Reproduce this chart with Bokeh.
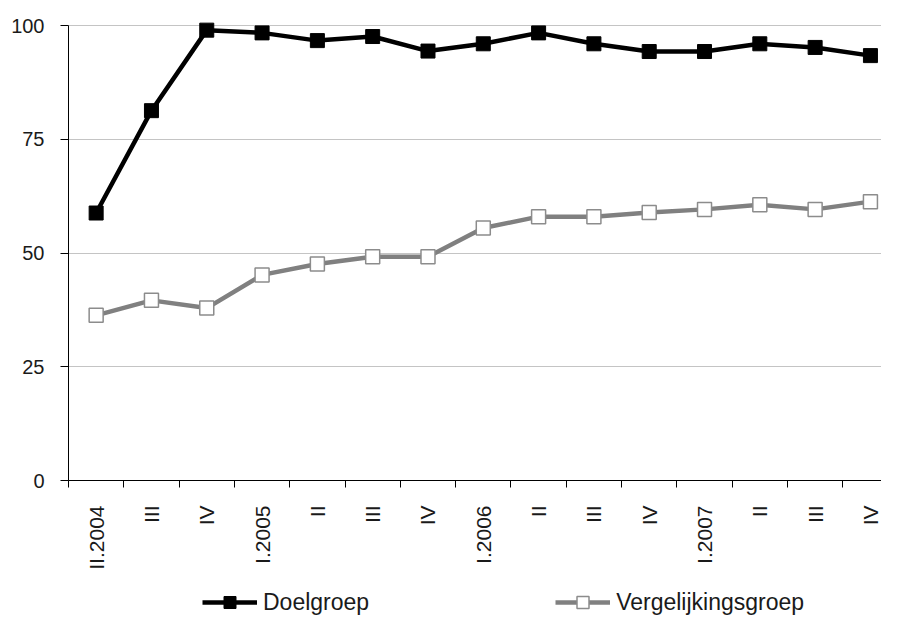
import math
from bokeh.plotting import figure
from bokeh.layouts import column
from bokeh.models import Range1d, FixedTicker, Legend, LegendItem
from bokeh.embed import file_html
from bokeh.resources import INLINE

categories = ["II.2004", "III", "IV", "I.2005", "II", "III", "IV", "I.2006",
              "II", "III", "IV", "I.2007", "II", "III", "IV"]
doelgroep = [58.8, 81.3, 99.0, 98.4, 96.7, 97.6, 94.4, 96.0, 98.4, 96.0, 94.3, 94.3, 96.0, 95.2, 93.4]
vergelijkingsgroep = [36.3, 39.6, 37.9, 45.2, 47.6, 49.2, 49.2, 55.5, 58.0, 58.0, 58.9, 59.6, 60.6, 59.6, 61.3]
y_ticks = [0, 25, 50, 75, 100]
series_names = ["Doelgroep", "Vergelijkingsgroep"]

xs = list(range(len(categories)))

BLACK_LINE = dict(line_color="black", line_width=4.5)
BLACK_MARK = dict(marker="square", size=14, fill_color="black", line_color="black")
GREY_LINE = dict(line_color="#808080", line_width=4.5)
GREY_MARK = dict(marker="square", size=14, fill_color="white", line_color="#8c8c8c", line_width=1.5)

p = figure(width=881, height=585,
           x_range=Range1d(-0.5, 14.2), y_range=Range1d(0, 102),
           output_backend="svg", toolbar_location=None,
           min_border_left=68, min_border_right=0, min_border_top=16, min_border_bottom=105)
p.outline_line_color = None
p.background_fill_color = "white"

p.xgrid.grid_line_color = None
p.ygrid.grid_line_color = "#c4c4c4"
p.ygrid.grid_line_width = 1

p.yaxis.ticker = FixedTicker(ticks=y_ticks)
p.yaxis.bounds = (0, 100)
p.yaxis.axis_line_color = "black"
p.yaxis.major_tick_line_color = "black"
p.yaxis.major_tick_out = 8
p.yaxis.major_tick_in = 0
p.yaxis.minor_tick_line_color = None
p.yaxis.major_label_standoff = 16
p.yaxis.major_label_text_font = "Liberation Sans"
p.yaxis.major_label_text_font_size = "20px"
p.yaxis.major_label_text_color = "#1a1a1a"

p.xaxis.ticker = FixedTicker(ticks=xs, minor_ticks=[i - 0.5 for i in xs])
p.xaxis.major_label_overrides = {i: c for i, c in zip(xs, categories)}
p.xaxis.major_label_orientation = math.pi / 2
p.xaxis.major_tick_out = 0
p.xaxis.major_tick_in = 0
p.xaxis.minor_tick_out = 7
p.xaxis.minor_tick_in = 0
p.xaxis.minor_tick_line_color = "black"
p.xaxis.axis_line_color = "black"
p.xaxis.major_label_standoff = 18
p.xaxis.major_label_text_font = "Liberation Sans"
p.xaxis.major_label_text_font_size = "21px"
p.xaxis.major_label_text_color = "#1a1a1a"

p.line(xs, vergelijkingsgroep, **GREY_LINE)
p.scatter(xs, vergelijkingsgroep, **GREY_MARK)
p.line(xs, doelgroep, **BLACK_LINE)
p.scatter(xs, doelgroep, **BLACK_MARK)

# legend strip below the chart (series drawn off-range so only the legend shows)
lg = figure(width=881, height=34, x_range=Range1d(-1, 0), y_range=Range1d(-1, 0),
            output_backend="svg", toolbar_location=None,
            min_border_left=0, min_border_right=0, min_border_top=0, min_border_bottom=0)
lg.axis.visible = False
lg.grid.visible = False
lg.outline_line_color = None
a1 = lg.line(xs, doelgroep, **BLACK_LINE)
b1 = lg.scatter(xs, doelgroep, **BLACK_MARK)
a2 = lg.line(xs, vergelijkingsgroep, **GREY_LINE)
b2 = lg.scatter(xs, vergelijkingsgroep, **GREY_MARK)
legend = Legend(items=[LegendItem(label=series_names[0], renderers=[a1, b1]),
                       LegendItem(label=series_names[1], renderers=[a2, b2])],
                location=(134, 2), orientation="horizontal",
                spacing=186, padding=0, margin=0,
                glyph_width=55, glyph_height=30, label_standoff=6,
                label_text_font="Liberation Sans", label_text_font_size="23px",
                label_text_color="#1a1a1a",
                background_fill_alpha=0, border_line_alpha=0)
lg.add_layout(legend)

layout = column(p, lg, spacing=0)
open("out.html", "w").write(file_html(layout, INLINE))
